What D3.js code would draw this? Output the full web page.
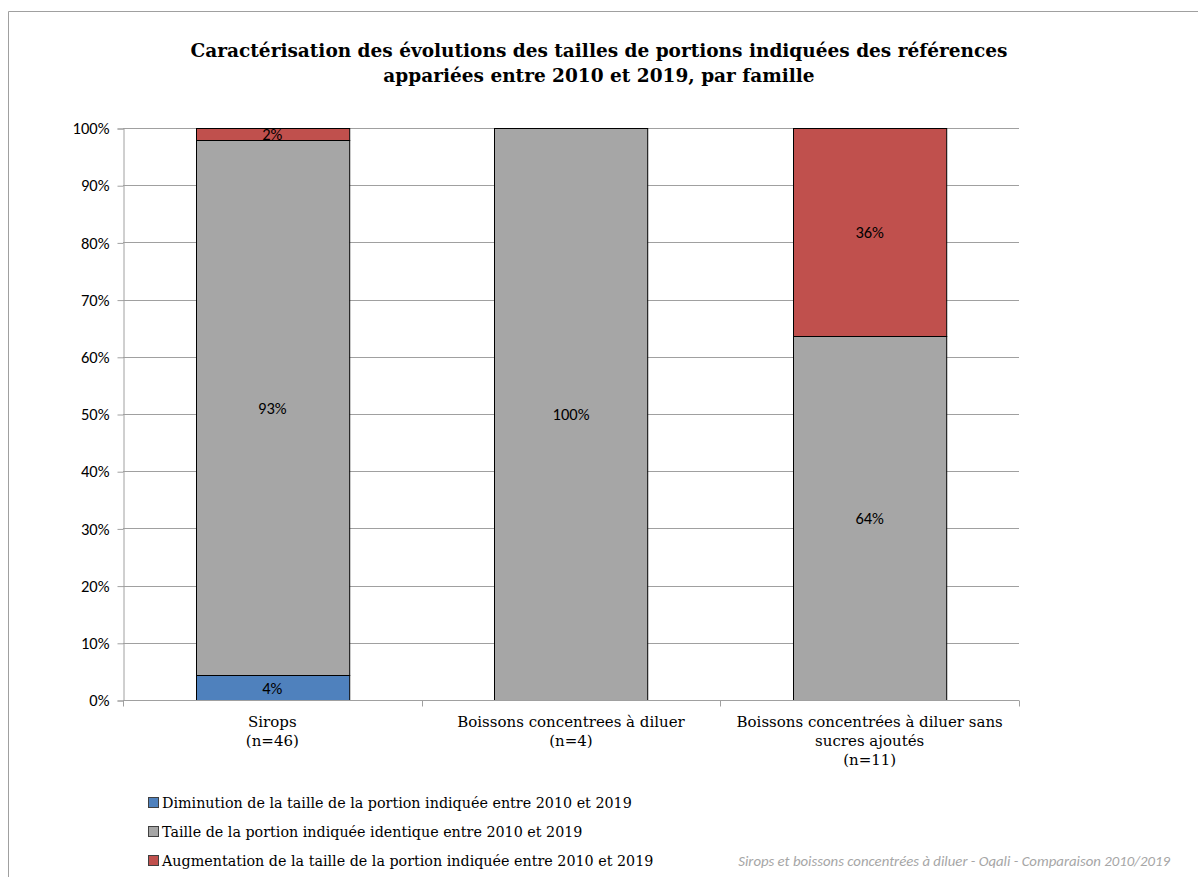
<!DOCTYPE html>
<html>
<head>
<meta charset="utf-8">
<script src="https://cdn.jsdelivr.net/npm/d3@7"></script>
<style>
	body { margin: 0; background: #fff; }
	svg { display: block; }
</style>
</head>
<body>
<div id="chart"></div>
<script>
// categories, as lines of the x label
const categories = ["Sirops", "Boissons concentrees à diluer", "Boissons concentrées à diluer sans sucres ajoutés"];
const categoryLines = [
	["Sirops", "(n=46)"],
	["Boissons concentrees à diluer", "(n=4)"],
	["Boissons concentrées à diluer sans", "sucres ajoutés", "(n=11)"],
];
const seriesNames = [
	"Diminution de la taille de la portion indiquée entre 2010 et 2019",
	"Taille de la portion indiquée identique entre 2010 et 2019",
	"Augmentation de la taille de la portion indiquée entre 2010 et 2019",
];
// shares in % (per category)
const diminution = [4.35, 0, 0];
const identique = [93.48, 100, 63.64];
const augmentation = [2.17, 0, 36.36];
const yTicks = [0, 10, 20, 30, 40, 50, 60, 70, 80, 90, 100];
const colors = ["#4f81bd", "#a6a6a6", "#c0504d"];

const width = 1198, height = 877;
const margin = { left: 123, right: 179, top: 128, bottom: 177 };
const serif = "DejaVu Serif, serif";
const sans = "Carlito, Liberation Sans, sans-serif";

let svg = d3.select("#chart").append("svg").attr("width", width).attr("height", height);

// outer frame (only left and top visible)
svg.append("path").attr("d", "M8.5,877 V11.5 H1198").attr("fill", "none").attr("stroke", "#a0a0a0").attr("stroke-width", 1);

svg.append("text")
	.attr("x", 599)
	.attr("text-anchor", "middle")
	.attr("font-family", serif)
	.attr("font-weight", "bold")
	.attr("font-size", 18.5)
	.attr("fill", "#000")
	.selectAll("tspan")
	.data(["Caractérisation des évolutions des tailles de portions indiquées des références", "appariées entre 2010 et 2019, par famille"])
	.enter()
	.append("tspan")
	.attr("x", 599)
	.attr("y", (d, i) => 57 + i * 25)
	.text((d) => d);

let x = d3.scaleBand().domain(categories).range([margin.left, width - margin.right]).paddingInner(0).paddingOuter(0);
let y = d3.scaleLinear().domain([0, 100]).range([height - margin.bottom, margin.top]);

// gridlines
svg.append("g")
	.selectAll("line")
	.data(yTicks)
	.enter()
	.append("line")
	.attr("x1", margin.left)
	.attr("x2", width - margin.right)
	.attr("y1", (d) => Math.round(y(d)) + 0.5)
	.attr("y2", (d) => Math.round(y(d)) + 0.5)
	.attr("stroke", "#a0a0a0");

// y axis
let yAxis = d3.axisLeft(y).tickValues(yTicks).tickSize(6).tickFormat((d) => d + "%");
let yg = svg.append("g").attr("transform", "translate(" + (margin.left + 0.5) + ",0.5)").call(yAxis);
yg.select(".domain").attr("stroke", "#a0a0a0");
yg.selectAll(".tick line").attr("stroke", "#a0a0a0");
yg.selectAll(".tick text")
	.attr("font-family", sans)
	.attr("font-size", 16.5)
	.attr("fill", "#000")
	.attr("x", -14);

// stacked bars
let table = categories.map((c, i) => ({ cat: c, d: diminution[i], s: identique[i], a: augmentation[i] }));
let stack = d3.stack().keys(["d", "s", "a"])(table);
let barW = x.bandwidth() * 0.513;

let layers = svg.append("g")
	.selectAll("g")
	.data(stack)
	.enter()
	.append("g")
	.attr("fill", (d, i) => colors[i]);

layers.selectAll("rect")
	.data((d) => d.filter((p) => p[1] - p[0] > 0))
	.enter()
	.append("rect")
	.attr("x", (p) => Math.round(x(p.data.cat) + (x.bandwidth() - barW) / 2) + 0.5)
	.attr("width", barW)
	.attr("y", (p) => Math.round(y(p[1])) + 0.5)
	.attr("height", (p) => Math.round(y(p[0])) - Math.round(y(p[1])))
	.attr("stroke", "#000")
	.attr("stroke-width", 1);

layers.selectAll("text")
	.data((d) => d.filter((p) => p[1] - p[0] > 0))
	.enter()
	.append("text")
	.attr("x", (p) => x(p.data.cat) + x.bandwidth() / 2)
	.attr("y", (p) => (y(p[0]) + y(p[1])) / 2 + 6)
	.attr("text-anchor", "middle")
	.attr("font-family", sans)
	.attr("font-size", 16.5)
	.attr("fill", "#000")
	.text((p) => Math.round(p[1] - p[0]) + "%");

// x axis
let xAxisY = Math.round(y(0)) + 0.5;
svg.append("line")
	.attr("x1", margin.left)
	.attr("x2", width - margin.right)
	.attr("y1", xAxisY)
	.attr("y2", xAxisY)
	.attr("stroke", "#a0a0a0");
let bounds = categories.map((c) => x(c)).concat([width - margin.right]);
svg.append("g")
	.selectAll("line")
	.data(bounds)
	.enter()
	.append("line")
	.attr("x1", (d) => Math.round(d) + 0.5)
	.attr("x2", (d) => Math.round(d) + 0.5)
	.attr("y1", xAxisY)
	.attr("y2", xAxisY + 6)
	.attr("stroke", "#a0a0a0");

svg.append("g")
	.selectAll("text")
	.data(categories)
	.enter()
	.append("text")
	.attr("text-anchor", "middle")
	.attr("font-family", serif)
	.attr("font-size", 15)
	.attr("fill", "#000")
	.each(function (c, i) {
		d3.select(this)
			.selectAll("tspan")
			.data(categoryLines[i])
			.enter()
			.append("tspan")
			.attr("x", x(c) + x.bandwidth() / 2)
			.attr("y", (d, j) => 727 + j * 19)
			.text((d) => d);
	});

// legend
let legend = svg.append("g").attr("id", "legend");
let items = legend.selectAll("g")
	.data(seriesNames)
	.enter()
	.append("g")
	.attr("transform", (d, i) => "translate(148," + (797 + i * 29) + ")");
items.append("rect")
	.attr("x", 0.5)
	.attr("y", 0.5)
	.attr("width", 10)
	.attr("height", 10)
	.attr("fill", (d, i) => colors[i])
	.attr("stroke", "#404040");
items.append("text")
	.attr("x", 14)
	.attr("y", 11)
	.attr("font-family", serif)
	.attr("font-size", 14.3)
	.attr("fill", "#000")
	.text((d) => d);

svg.append("text")
	.attr("x", 1170)
	.attr("y", 866)
	.attr("text-anchor", "end")
	.attr("font-family", sans)
	.attr("font-style", "italic")
	.attr("font-size", 14.8)
	.attr("fill", "#a6a6a6")
	.text("Sirops et boissons concentrées à diluer - Oqali - Comparaison 2010/2019");
</script>
</body>
</html>
